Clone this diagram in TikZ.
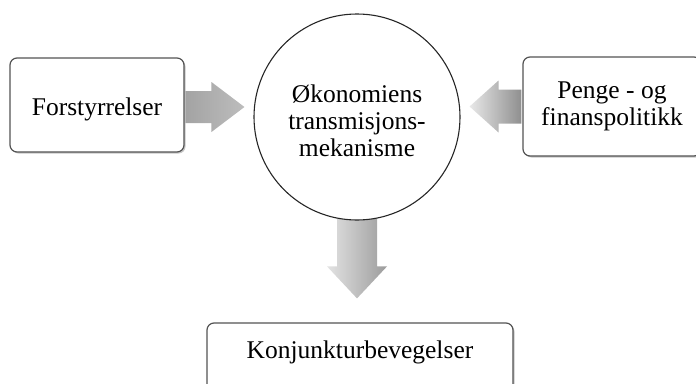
\documentclass[tikz,border=0pt]{standalone}
\usepackage{fontspec}
\setmainfont{Liberation Serif}
\usetikzlibrary{calc,shadows}
\pgfdeclarelayer{back}
\pgfsetlayers{back,main}
\tikzset{
  frame/.style={draw=gray!65!black, line width=1.2pt, rounded corners=7pt, fill=white,
    drop shadow={shadow xshift=1.5pt, shadow yshift=-1.5pt, fill=gray!45, opacity=1},
    inner sep=0pt},
  lbl/.style={font=\fontsize{25.5}{27}\selectfont, align=center},
  ball/.style={circle, draw=black!85, line width=1.1pt, fill=white, inner sep=0pt, minimum size=206pt},
}
\begin{document}
\begin{tikzpicture}[x=1pt, y=-1pt]
\useasboundingbox (0,0) rectangle (696,383);

% boxes and the central mechanism
\node[frame, lbl, minimum width=174pt, text height=57pt, text depth=37pt, anchor=base]
  (force) at (97,115) {Forstyrrelser};
\node[frame, lbl, minimum width=178pt, minimum height=99pt]
  (policy) at (612,106.5) {Penge - og\\finanspolitikk};
\node[ball, label={[lbl, yshift=-4pt]center:Økonomiens\\transmisjons-\\mekanisme}]
  (core) at (357,117) {};
\node[frame, lbl, minimum width=306pt, text height=35pt, text depth=39pt, anchor=base]
  (cycle) at (360,358) {Konjunkturbevegelser};

% thick shaded arrows between them
\begin{pgfonlayer}{back}
  % disturbances -> mechanism
  \shade[left color=gray!72, right color=gray!52]
    let \p1=($(force.east)+(1,2)$), \p2=($(core.west)+(-9,0)$) in
    (\x1,\y1+16pt) -- (\x2-33pt,\y1+16pt) -- (\x2-33pt,\y1+25pt) -- (\x2,\y1)
    -- (\x2-33pt,\y1-25pt) -- (\x2-33pt,\y1-16pt) -- (\x1,\y1-16pt) -- cycle;
  % policy -> mechanism
  \shade[left color=gray!18, right color=gray!88]
    let \p1=($(policy.west)+(-1,0)$), \p2=($(core.east)+(9,0)$) in
    (\x1,\y1+17pt) -- (\x2+29pt,\y1+17pt) -- (\x2+29pt,\y1+26pt) -- (\x2,\y1)
    -- (\x2+29pt,\y1-26pt) -- (\x2+29pt,\y1-17pt) -- (\x1,\y1-17pt) -- cycle;
  % mechanism -> business cycles
  \shade[left color=gray!22, right color=gray!78]
    let \p1=($(core.south)+(0,-6)$), \p2=($(cycle.north)+(0,-24)$) in
    (\x1-20pt,\y1) -- (\x1-20pt,\y2+32pt) -- (\x1-30pt,\y2+32pt) -- (\x1,\y2)
    -- (\x1+30pt,\y2+32pt) -- (\x1+20pt,\y2+32pt) -- (\x1+20pt,\y1) -- cycle;
\end{pgfonlayer}
\end{tikzpicture}
\end{document}
